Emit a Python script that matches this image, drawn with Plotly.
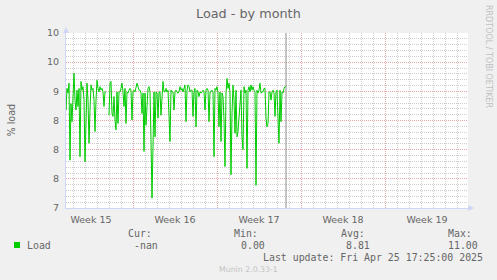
import plotly.graph_objects as go
import pandas as pd

# ---------------- data ----------------
load_values = [
    9.05, 9.02, 8.68, 9.05, 8.97, 9.14, 7.82, 8.79, 8.48, 9.02,
    9.31, 8.85, 8.68, 9.02, 8.74, 9.05, 7.88, 9.17, 9.02, 9.08,
    8.85, 7.79, 8.68, 9.14, 8.85, 8.11, 8.68, 9.11, 9.02, 9.05,
    8.85, 8.31, 8.85, 9.19, 9.05, 8.99, 9.08, 9.02, 9.05, 8.99,
    8.74, 8.99, 8.99, None, None,
    8.59, 9.14, 9.17, 8.62, 8.57, 8.91, 8.51, 8.34, 8.99, 8.45,
    8.99, 8.99, 9.05, 9.14, 8.99, 8.74, 9.05, 8.45, 8.99, 8.97,
    9.02, 9.05, 9.02, 8.51, 8.99, 9.02, 8.99, 9.11, 9.14, 9.08,
    9.02,
    9.02, 8.97, 8.62, 8.97, 7.97, 8.97, 8.42, 8.85, 9.05, 9.08,
    8.99, 8.17, 7.17, 8.05, 8.99, 8.22, 8.99, 8.97, 8.54, 8.99,
    8.99, 8.59, 9.02, 9.17, 8.99, 8.99, 9.05, 8.99, 9.02, 8.51,
    8.14, 9.02, 8.99, 8.99, 8.68, 8.99, 9.02, 8.99, 8.97, 8.99,
    9.08, 9.02, 9.05, 8.99, 9.08, 9.11, 8.48, 9.02, 9.11, 9.08,
    8.99, 9.02, 9.02, 8.57, 8.99, 9.05, 8.39, 9.02, 8.99, 8.91,
    8.99, 8.97, 8.99, 9.02, 8.99, 8.68, 9.02, 9.05, 9.02, 8.48,
    8.99, 8.99, 9.02, 8.99, 7.88, 9.05, 9.02, 9.08, 8.97, 8.39,
    8.99, 8.14, 8.97, 8.91, 8.51, 7.71, 8.97, 9.22, 9.05, 9.14,
    8.97, 7.57, 8.62, 9.11, 8.85, 8.28, 9.02, 8.22, 8.31, 8.54,
    8.94, 9.02, 8.22, 8.00, 9.08, 8.97, 9.02, 7.68, 9.02, 9.08,
    8.99, 9.11, 9.02, 9.08, 9.02, 8.99, 7.39, 9.02, 8.97, 9.02,
    9.14, 8.97, 8.99, 8.99, 9.05, 9.05, 8.54, 8.39, 8.45, 8.99,
    8.99, 8.85, 8.99, 9.02, 8.97, 8.57, 8.99, 9.02, 8.54, 8.11,
    9.02, 8.48, 8.99, 8.97, 9.05, 9.08, 9.08,
]
last_sample = "2025-04-26 18:00"
sample_step = "2h"
x_range = ["2025-04-08 10:00", "2025-05-11 22:00"]
week_start = "2025-04-07"
y_range = [7, 10]
y_ticks = [7, 7.5, 8, 8.5, 9, 9.5, 10]
y_ticklabels = ["7", "8", "8", "8", "9", "10", "10"]
series_name = "Load"
legend_headers = ["Cur:", "Min:", "Avg:", "Max:"]
legend_values = ["-nan", "0.00", "8.81", "11.00"]
last_update = "Last update: Fri Apr 25 17:25:00 2025"
title_text = "Load - by month"
y_title = "% load"
watermark = "RRDTOOL / TOBI OETIKER"
version_text = "Munin 2.0.33-1"

times = pd.date_range(end=last_sample, periods=len(load_values), freq=sample_step)

# ---------------- layout helpers ----------------
W, H = 497, 280
PL, PR, PT, PB = 66, 468, 33, 208


def fx(px):
    return (px - PL) / (PR - PL)


def fy(py):
    return (PB - py) / (PB - PT)


FONT = "DejaVu Sans"
MONO = "DejaVu Sans Mono"
FC = "#666666"
MAJOR = "#eaa8a8"
MINOR = "#cdcdcd"
AXIS = "#cfd6f8"
GREEN = "#00cc00"

fig = go.Figure()
fig.add_trace(go.Scatter(
    x=times, y=load_values, mode="lines",
    line=dict(color=GREEN, width=1), connectgaps=False,
    hoverinfo="skip", showlegend=False,
))

fig.update_layout(
    width=W, height=H,
    margin=dict(l=PL, r=W - PR, t=PT, b=H - PB, autoexpand=False),
    paper_bgcolor="#f0f0f0", plot_bgcolor="#ffffff",
    showlegend=False,
    xaxis=dict(
        type="date", range=x_range, tick0=week_start, dtick=7 * 86400000,
        ticklabelmode="period", tickformat="Week %V",
        showgrid=True, gridcolor=MAJOR, griddash="1px,1px", gridwidth=1,
        ticks="", showline=True, linecolor=AXIS, linewidth=1, zeroline=False,
        ticklabelstandoff=3,
        tickfont=dict(family=FONT, size=9.5, color=FC),
        minor=dict(dtick=86400000, tick0=week_start, showgrid=True,
                   gridcolor=MINOR, griddash="1px,1px", gridwidth=1),
        fixedrange=True,
    ),
    yaxis=dict(
        range=y_range, tickvals=y_ticks, ticktext=y_ticklabels,
        showgrid=True, gridcolor=MAJOR, griddash="1px,1px", gridwidth=1,
        minor=dict(dtick=0.1, tick0=7, showgrid=True, gridcolor=MINOR,
                   griddash="1px,1px", gridwidth=1),
        showline=True, linecolor=AXIS, linewidth=1, zeroline=False,
        ticks="", ticklabelstandoff=4,
        tickfont=dict(family=FONT, size=9.5, color=FC),
        fixedrange=True,
    ),
)

shapes = [
    # "now" line at the last sample
    dict(type="line", xref="x", yref="paper", x0=times[-1], x1=times[-1],
         y0=0, y1=1, line=dict(color="#8a8a8a", width=1)),
    # axis arrows
    dict(type="path", xref="paper", yref="paper", xsizemode="pixel", ysizemode="pixel",
         xanchor=0, yanchor=1, path="M -3,0 L 3,0 L 0,6 Z",
         fillcolor=AXIS, line=dict(width=0)),
    dict(type="path", xref="paper", yref="paper", xsizemode="pixel", ysizemode="pixel",
         xanchor=1, yanchor=0, path="M 0,-3 L 0,3 L 6,0 Z",
         fillcolor=AXIS, line=dict(width=0)),
    # legend swatch
    dict(type="rect", xref="paper", yref="paper",
         x0=fx(14), x1=fx(20), y0=fy(248), y1=fy(242),
         fillcolor=GREEN, line=dict(width=0)),
]
fig.update_layout(shapes=shapes)


def ann(text, px, py, size, family=FONT, color=FC, xanchor="left", angle=0):
    fig.add_annotation(
        text=text, x=fx(px), y=fy(py), xref="paper", yref="paper",
        xanchor=xanchor, yanchor="middle", showarrow=False, textangle=angle,
        font=dict(family=family, size=size, color=color),
        borderpad=0, borderwidth=0,
    )


ann(title_text, 248.5, 13.5, 12.8, xanchor="center")
ann(y_title, 11, 120.5, 9.6, xanchor="center", angle=-90)
ann(watermark, 488.5, 56.5, 8, color="#c0c0c0", xanchor="center", angle=90)
ann(version_text, 248.6, 269, 7.8, color="#c4c4c4", xanchor="center")

ann(series_name, 26.7, 245, 9.9, family=MONO)
header_x = [127.7, 234.3, 341, 447.7]
value_x = [134.3, 240.7, 345.7, 447.7]
for h, v, hx, vx in zip(legend_headers, legend_values, header_x, value_x):
    ann(h, hx, 233.7, 9.9, family=MONO)
    ann(v, vx, 245, 9.9, family=MONO)
ann(last_update, 482.7, 257.3, 9.9, family=MONO, xanchor="right")

fig.write_html("out.html")
